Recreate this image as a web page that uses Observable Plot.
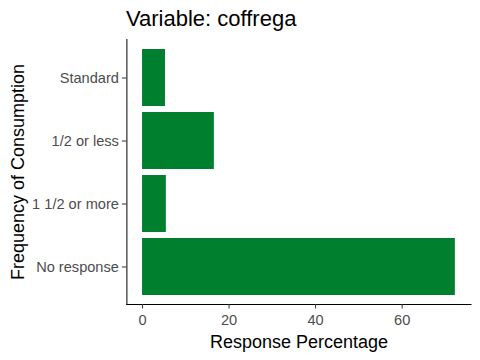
<!DOCTYPE html>
<html><head><meta charset="utf-8">
<script src="https://cdn.jsdelivr.net/npm/d3@7"></script>
<script src="https://cdn.jsdelivr.net/npm/@observablehq/plot@0.6"></script>
<style>
body{margin:0;background:#fff;}
#wrap{position:relative;width:480px;height:360px;font-family:"Liberation Sans",Arial,sans-serif;}
#title{position:absolute;left:126px;top:8px;font-size:22px;line-height:1;color:#000;white-space:nowrap;}
</style></head><body>
<div id="wrap"><div id="title"></div></div>
<script>
const categories = ["Standard", "1/2 or less", "1 1/2 or more", "No response"];
const percentages = [5.3, 16.6, 5.5, 72.3];
const xTicks = [0, 20, 40, 60];
const titleText = "Variable: coffrega";
const xLabel = "Response Percentage";
const yLabel = "Frequency of Consumption";

const data = categories.map((c, i) => ({category: c, value: percentages[i]}));
const maxV = d3.max(percentages);
const pad = maxV * 0.05;
const font = '"Liberation Sans", Arial, sans-serif';

document.getElementById("title").textContent = titleText;

const chart = Plot.plot({
  width: 480, height: 360,
  marginLeft: 126.4, marginRight: 9.5, marginTop: 39, marginBottom: 56,
  style: {fontFamily: font, background: "#fff", overflow: "visible"},
  x: {domain: [-pad, maxV + pad]},
  y: {domain: categories, paddingInner: 0.1, paddingOuter: 0.15},
  marks: [
    Plot.barX(data, {x: "value", y: "category", fill: "#00802F"}),
    Plot.frame({anchor: "left", stroke: "#000"}),
    Plot.frame({anchor: "bottom", stroke: "#000"}),
    Plot.axisX({ticks: xTicks, tickSize: 4.5, tickPadding: 6, fontSize: 14.6, fill: "#4d4d4d", stroke: "#333", label: null}),
    Plot.axisY({tickSize: 4.5, tickPadding: 3.5, fontSize: 14.6, fill: "#4d4d4d", stroke: "#333", label: null}),
    Plot.text([xLabel], {text: d => d, frameAnchor: "bottom", textAnchor: "middle", lineAnchor: "middle", dy: 38, fontSize: 18, fill: "#000"}),
    Plot.text([yLabel], {text: d => d, frameAnchor: "left", textAnchor: "middle", lineAnchor: "middle", dx: -109, rotate: -90, fontSize: 18, fill: "#000"})
  ]
});
document.getElementById("wrap").appendChild(chart);
</script>
</body></html>
